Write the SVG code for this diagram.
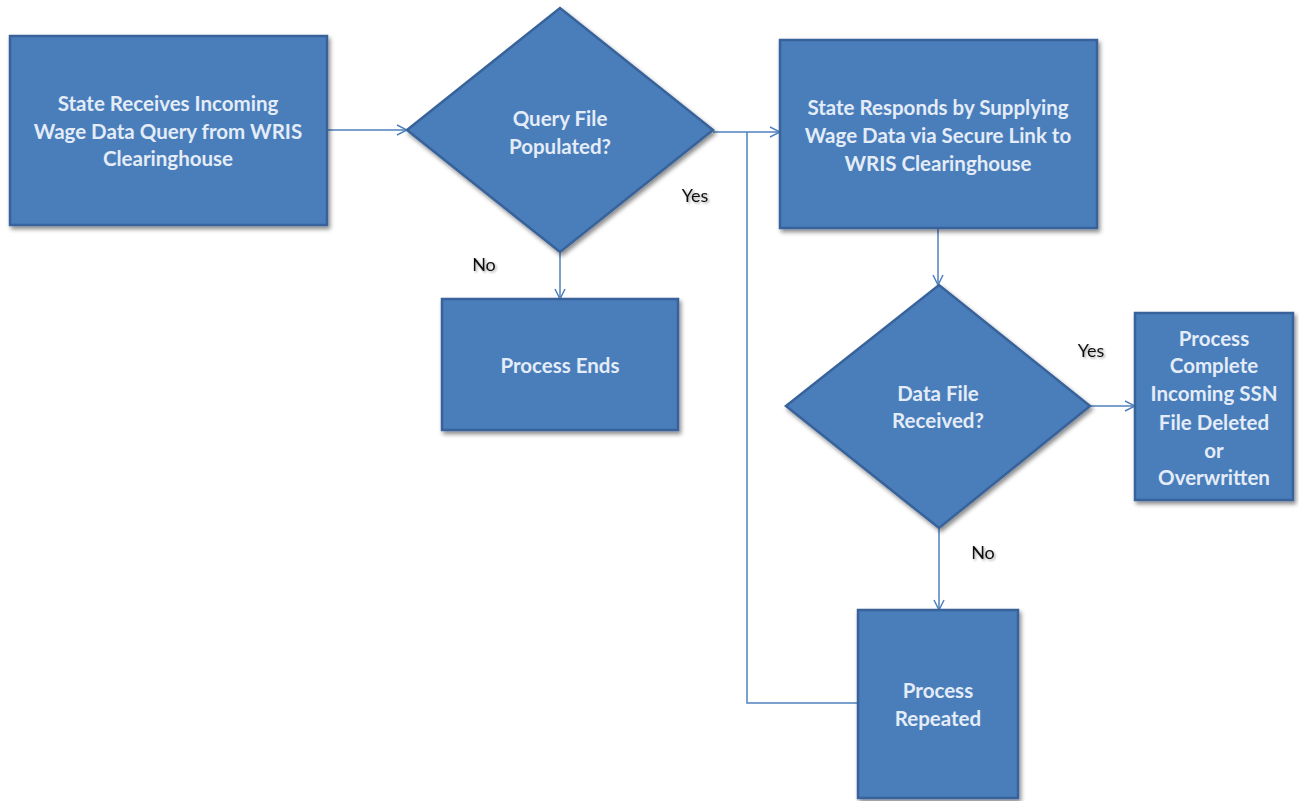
<svg xmlns="http://www.w3.org/2000/svg" width="1299" height="801" viewBox="0 0 1299 801">
<defs>
<filter id="sh" x="-10%" y="-10%" width="125%" height="125%">
<feDropShadow dx="2" dy="3" stdDeviation="2" flood-color="#000" flood-opacity="0.45"/>
</filter>
<filter id="tsh" x="-20%" y="-20%" width="150%" height="160%">
<feDropShadow dx="1.5" dy="1.5" stdDeviation="1.2" flood-color="#000" flood-opacity="0.35"/>
</filter>
<marker id="arr" viewBox="0 0 12 12" refX="11" refY="6" markerWidth="12" markerHeight="12" markerUnits="userSpaceOnUse" orient="auto">
<path d="M1,1 L11,6 L1,11" fill="none" stroke="#4f81bd" stroke-width="1.5"/>
</marker>
</defs>
<style>
.n{fill:#4a7ebb;stroke:#38629a;stroke-width:2.5;filter:url(#sh)}
.t{font-family:Lato,"Liberation Sans",sans-serif;font-weight:bold;font-size:20.5px;fill:#e4ecf7;text-anchor:middle;dominant-baseline:central}
.l{font-family:Lato,"Liberation Sans",sans-serif;font-size:18px;fill:#111;text-anchor:middle;dominant-baseline:central;filter:url(#tsh)}
.c{fill:none;stroke:#4f81bd;stroke-width:1.5}
</style>
<rect width="1299" height="801" fill="#fff"/>
<g id="connectors">
<path class="c" d="M327,130 L407,130" marker-end="url(#arr)"/>
<path class="c" d="M713,132 L780,132" marker-end="url(#arr)"/>
<path class="c" d="M560,252 L560,299" marker-end="url(#arr)"/>
<path class="c" d="M938,228 L938,285" marker-end="url(#arr)"/>
<path class="c" d="M1090,406 L1135,406" marker-end="url(#arr)"/>
<path class="c" d="M939,528 L939,610" marker-end="url(#arr)"/>
<path class="c" d="M858,703 L747,703 L747,132"/>
</g>
<g id="n1">
<rect class="n" x="10" y="36" width="317" height="189"/>
<text class="t" x="168" y="103">State Receives Incoming</text>
<text class="t" x="168" y="131">Wage Data Query from WRIS</text>
<text class="t" x="168" y="158">Clearinghouse</text>
</g>
<g id="d1">
<polygon class="n" points="407,130 560,8 713,130 560,252"/>
<text class="t" x="560" y="118">Query File</text>
<text class="t" x="560" y="146">Populated?</text>
</g>
<g id="n3">
<rect class="n" x="780" y="40" width="317" height="188"/>
<text class="t" x="938" y="107">State Responds by Supplying</text>
<text class="t" x="938" y="135">Wage Data via Secure Link to</text>
<text class="t" x="938" y="163">WRIS Clearinghouse</text>
</g>
<g id="n4">
<rect class="n" x="442" y="299" width="236" height="131"/>
<text class="t" x="560" y="365">Process Ends</text>
</g>
<g id="d2">
<polygon class="n" points="786,406 939,285 1090,406 939,528"/>
<text class="t" x="938" y="393">Data File</text>
<text class="t" x="938" y="420">Received?</text>
</g>
<g id="n5">
<rect class="n" x="1135" y="313" width="158" height="187"/>
<text class="t" x="1214" y="338">Process</text>
<text class="t" x="1214" y="365">Complete</text>
<text class="t" x="1214" y="393">Incoming SSN</text>
<text class="t" x="1214" y="422">File Deleted</text>
<text class="t" x="1214" y="450">or</text>
<text class="t" x="1214" y="477">Overwritten</text>
</g>
<g id="n6">
<rect class="n" x="858" y="610" width="160" height="188"/>
<text class="t" x="938" y="690">Process</text>
<text class="t" x="938" y="718">Repeated</text>
</g>
<g id="labels">
<text class="l" x="695" y="195">Yes</text>
<text class="l" x="484" y="264">No</text>
<text class="l" x="1091" y="350">Yes</text>
<text class="l" x="983" y="552">No</text>
</g>
</svg>
